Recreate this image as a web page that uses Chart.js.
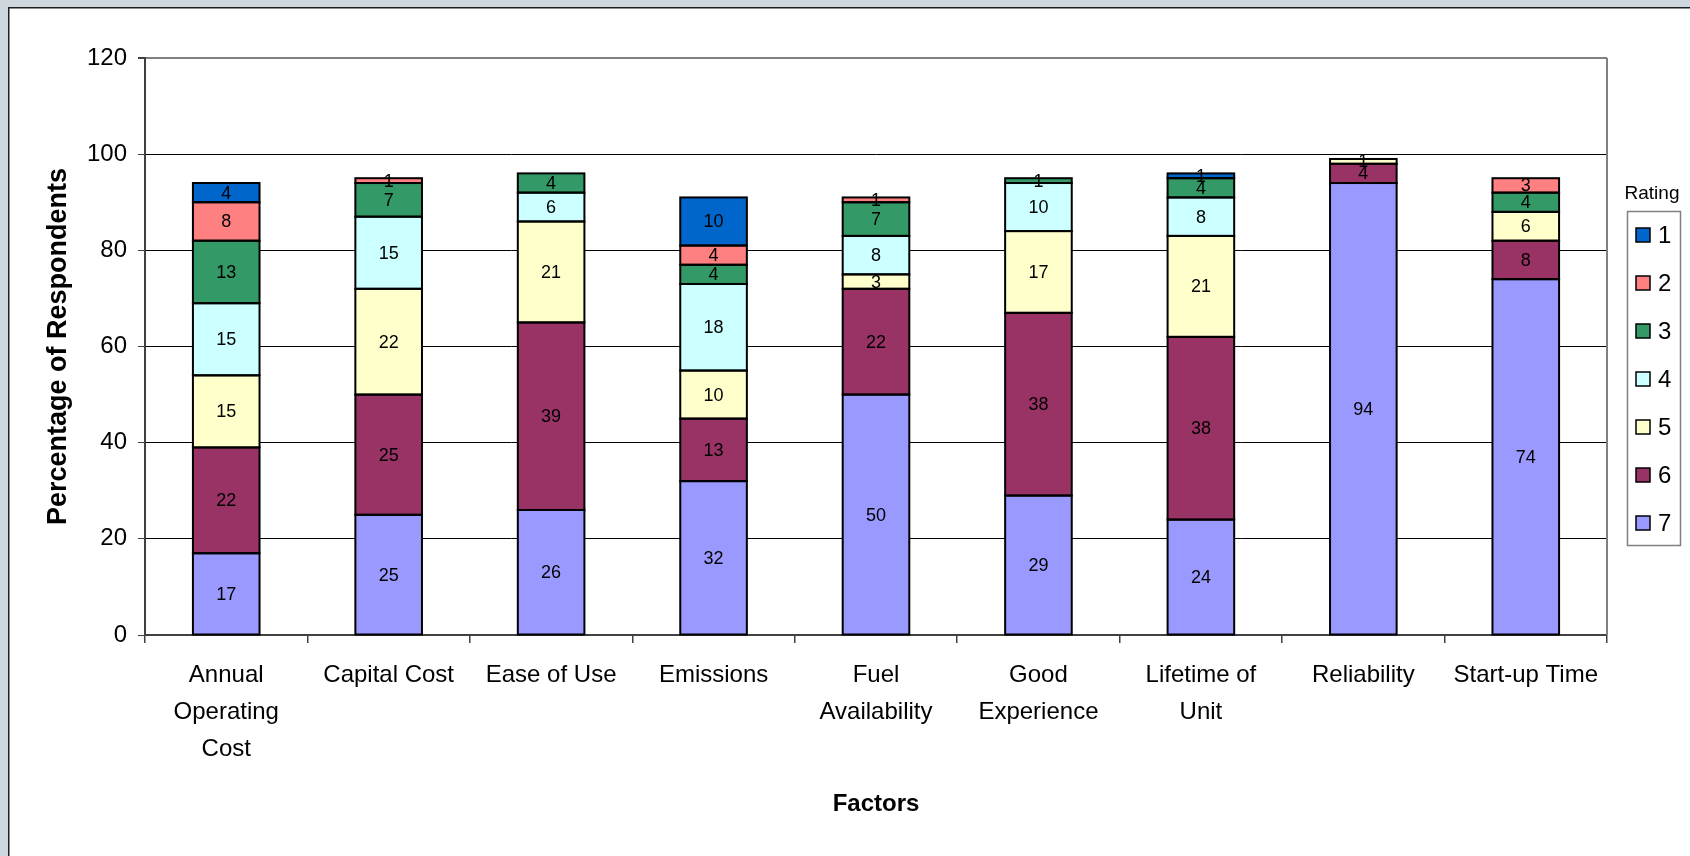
<!DOCTYPE html>
<html>
<head>
<meta charset="utf-8">
<script src="https://cdn.jsdelivr.net/npm/chart.js@4/dist/chart.umd.min.js"></script>
<style>
  html, body { margin: 0; padding: 0; background: #ffffff; }
  canvas { display: block; }
</style>
</head>
<body>
<canvas id="c" width="1690" height="856"></canvas>
<script>
// ---- data ----
const categories = [
  ['Annual', 'Operating', 'Cost'],
  'Capital Cost',
  'Ease of Use',
  'Emissions',
  ['Fuel', 'Availability'],
  ['Good', 'Experience'],
  ['Lifetime of', 'Unit'],
  'Reliability',
  'Start-up Time'
];
const ratingLabels = ['1', '2', '3', '4', '5', '6', '7'];
const rating7 = [17, 25, 26, 32, 50, 29, 24, 94, 74];
const rating6 = [22, 25, 39, 13, 22, 38, 38, 4, 8];
const rating5 = [15, 22, 21, 10, 3, 17, 21, 1, 6];
const rating4 = [15, 15, 6, 18, 8, 10, 8, 0, 0];
const rating3 = [13, 7, 4, 4, 7, 1, 4, 0, 4];
const rating2 = [8, 1, 0, 4, 1, 0, 0, 0, 3];
const rating1 = [4, 0, 0, 10, 0, 0, 1, 0, 0];
const yTicks = [0, 20, 40, 60, 80, 100, 120];

const colors = {
  '1': '#0066CC', '2': '#FF8080', '3': '#339966', '4': '#CCFFFF',
  '5': '#FFFFCC', '6': '#993366', '7': '#9999FF'
};
const seriesByRating = { '1': rating1, '2': rating2, '3': rating3, '4': rating4, '5': rating5, '6': rating6, '7': rating7 };

// stacked bottom-up: 7 first
const datasets = ['7', '6', '5', '4', '3', '2', '1'].map(r => ({
  label: r,
  data: seriesByRating[r],
  backgroundColor: colors[r],
  borderWidth: 0,
  inflateAmount: 0,
  categoryPercentage: 1.0,
  barPercentage: 0.41
}));

const FONT = "'Liberation Sans', Arial, sans-serif";

const framePlugin = {
  id: 'frame',
  beforeDraw(chart) {
    const ctx = chart.ctx;
    ctx.save();
    ctx.fillStyle = '#ffffff';
    ctx.fillRect(0, 0, chart.width, chart.height);
    ctx.fillStyle = '#cdd7dd';
    ctx.fillRect(0, 0, chart.width, 7);
    ctx.fillRect(0, 0, 8, chart.height);
    ctx.fillStyle = '#1e1e1e';
    ctx.fillRect(8, 7, chart.width - 8, 1.5);
    ctx.fillRect(8, 7, 1.5, chart.height - 7);
    ctx.restore();
  },
  afterDatasetsDraw(chart) {
    const ctx = chart.ctx;
    const a = chart.chartArea;
    ctx.save();
    // bar outlines (centered on the edges, from the bar elements)
    ctx.strokeStyle = '#000000';
    ctx.lineWidth = 2;
    chart.data.datasets.forEach((ds, di) => {
      const meta = chart.getDatasetMeta(di);
      meta.data.forEach((bar, i) => {
        if (!ds.data[i]) return;
        const p = bar.getProps(['x', 'y', 'base', 'width'], true);
        const left = p.x - p.width / 2;
        const top = Math.min(p.y, p.base);
        const h = Math.abs(p.base - p.y);
        ctx.strokeRect(left, top, p.width, h);
      });
    });
    // right border of plot area
    ctx.strokeStyle = '#808080';
    ctx.lineWidth = 2;
    ctx.beginPath();
    ctx.moveTo(a.right, a.top);
    ctx.lineTo(a.right, a.bottom);
    ctx.stroke();
    // data labels
    ctx.fillStyle = '#000000';
    ctx.font = '18px ' + FONT;
    ctx.textAlign = 'center';
    ctx.textBaseline = 'middle';
    chart.data.datasets.forEach((ds, di) => {
      const meta = chart.getDatasetMeta(di);
      meta.data.forEach((bar, i) => {
        const v = ds.data[i];
        if (!v) return;
        const cy = (bar.y + bar.base) / 2;
        ctx.fillText(String(v), bar.x, cy + 1);
      });
    });
    ctx.restore();
  },
  afterDraw(chart) {
    // legend
    const ctx = chart.ctx;
    ctx.save();
    ctx.fillStyle = '#000';
    ctx.font = '19px ' + FONT;
    ctx.textAlign = 'center';
    ctx.textBaseline = 'middle';
    ctx.fillText('Rating', 1652, 194);
    ctx.strokeStyle = '#808080';
    ctx.lineWidth = 1.5;
    ctx.strokeRect(1627.5, 211.5, 53, 334);
    ctx.font = '24px ' + FONT;
    ctx.textAlign = 'left';
    ratingLabels.forEach((r, i) => {
      const cy = 235 + 48 * i;
      ctx.fillStyle = colors[r];
      ctx.fillRect(1636, cy - 7, 14, 14);
      ctx.strokeStyle = '#000';
      ctx.lineWidth = 1.5;
      ctx.strokeRect(1636, cy - 7, 14, 14);
      ctx.fillStyle = '#000';
      ctx.fillText(r, 1658, cy + 1);
    });
    ctx.restore();
  }
};

new Chart(document.getElementById('c'), {
  type: 'bar',
  data: { labels: categories, datasets: datasets },
  options: {
    responsive: false,
    animation: false,
    layout: { padding: { left: 0, top: 58, right: 83, bottom: 0 } },
    plugins: {
      legend: { display: false },
      tooltip: { enabled: false },
      title: { display: false }
    },
    scales: {
      x: {
        stacked: true,
        grid: {
          display: true,
          drawOnChartArea: false,
          drawTicks: true,
          tickLength: 8,
          color: '#404040',
          lineWidth: 1.5
        },
        border: { display: true, color: '#404040', width: 2 },
        ticks: {
          color: '#000',
          font: { family: FONT, size: 24, lineHeight: 1.54 },
          padding: 14,
          maxRotation: 0,
          autoSkip: false
        },
        title: {
          display: true,
          text: 'Factors',
          color: '#000',
          font: { family: FONT, size: 24, weight: 'bold', lineHeight: 1.2 },
          padding: { top: 0, bottom: 37 }
        },
        afterFit(scale) { scale.height = 221; }
      },
      y: {
        stacked: true,
        min: 0,
        max: 120,
        afterBuildTicks(scale) { scale.ticks = yTicks.map(v => ({ value: v })); },
        grid: {
          color: ctx => (ctx.tick && ctx.tick.value === 120) ? '#808080' : '#000000',
          lineWidth: ctx => (ctx.tick && ctx.tick.value === 120) ? 2 : 1,
          tickColor: '#404040',
          tickLength: 7,
          drawTicks: true
        },
        border: { display: true, color: '#404040', width: 2 },
        ticks: {
          color: '#000',
          font: { family: FONT, size: 24 },
          padding: 11
        },
        title: {
          display: true,
          text: 'Percentage of Respondents',
          color: '#000',
          font: { family: FONT, size: 27, weight: 'bold', lineHeight: 1.2 },
          padding: { top: 42, bottom: 0 }
        },
        afterFit(scale) { scale.width = 145; }
      }
    }
  },
  plugins: [framePlugin]
});
</script>
</body>
</html>
